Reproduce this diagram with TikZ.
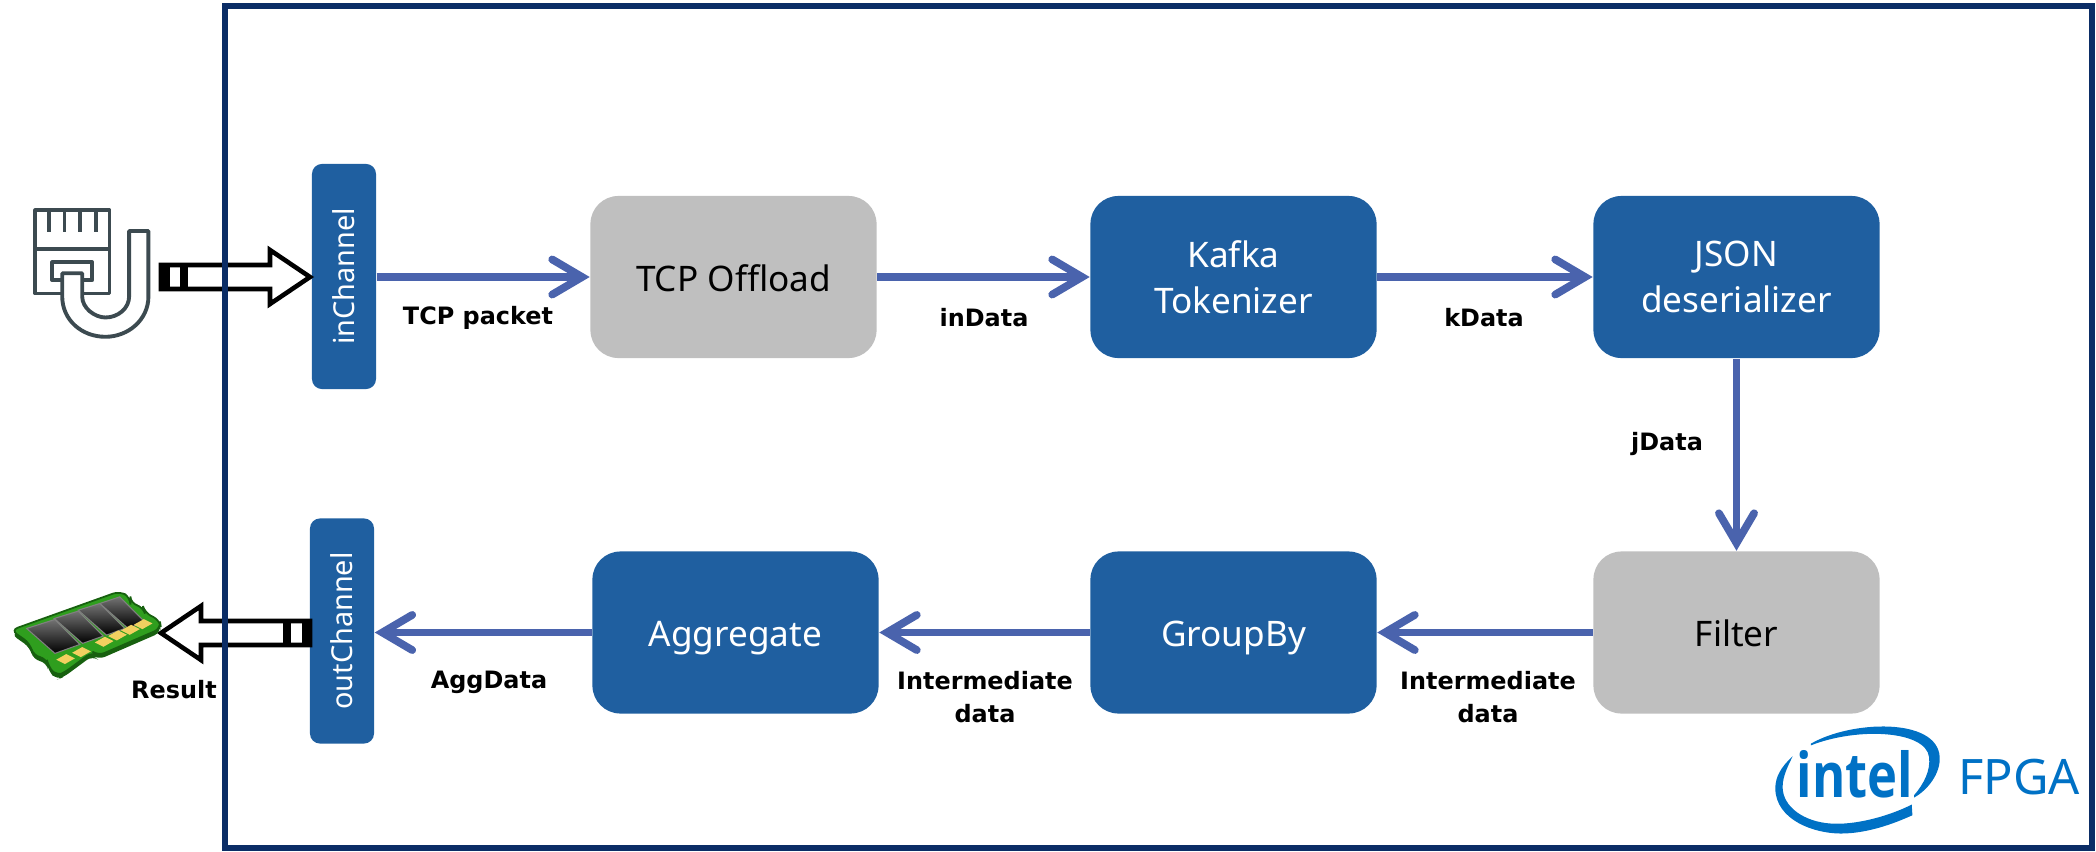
\documentclass[tikz,border=0pt]{standalone}
\usepackage{fontspec}
\setmainfont{Noto Sans}
\newfontfamily\labelfont{DejaVu Sans}
\newfontfamily\logofont{Open Sans}
\usetikzlibrary{arrows.meta}
\definecolor{blockblue}{HTML}{1F5FA0}
\definecolor{blockgray}{HTML}{BFBFBF}
\definecolor{framenavy}{HTML}{0B2D66}
\definecolor{flowblue}{HTML}{4A63AD}
\definecolor{intelblue}{HTML}{0071C5}
\definecolor{plugslate}{HTML}{3C4A50}
\definecolor{ramgreen}{HTML}{2F9E1E}
\definecolor{ramdark}{HTML}{17600F}
\definecolor{ramgold}{HTML}{F2D060}
\tikzset{
  block/.style={draw=none,rounded corners=2.8mm,minimum width=2.86cm,minimum height=1.62cm,
	align=center,inner sep=0pt,font=\fontsize{10}{13}\selectfont},
  bluebox/.style={block,fill=blockblue,text=white},
  graybox/.style={block,fill=blockgray,text=black},
  oneline/.style={text height=8pt,text depth=0pt},
  chanbox/.style={fill=blockblue,text=white,rounded corners=1mm,minimum width=2.25cm,minimum height=0.64cm,
	inner sep=0pt,rotate=90,font=\fontsize{8.2}{10}\selectfont},
  flow/.style={draw=flowblue,line width=2.2pt,-{Straight Barb[length=8.5pt,width=10pt,line cap=round,line join=miter]}},
  datalabel/.style={align=center,inner sep=0pt,font=\labelfont\bfseries\fontsize{6.8}{9.5}\selectfont},
  widearrow/.pic={
	\draw[line width=1.3pt,fill=white,miter limit=10] (-149,-12) -- (-40,-12) -- (-40,-27) -- (0,0) -- (-40,27) -- (-40,12) -- (-149,12) -- cycle;
	\fill (-149,-13.5) rectangle (-140.5,13.5);
	\fill (-130,-13.5) rectangle (-123,13.5);
	\draw[line width=0.7pt] (-149,-12) rectangle (-123,12);
  }
}
\begin{document}
\begin{tikzpicture}[x=0.01cm,y=-0.01cm]
%
\useasboundingbox (0,0) rectangle (2096,851);
%
\node[chanbox] (inCh) at (344,276.5) {inChannel};
\node[chanbox] (outCh) at (342,631) {outChannel};
\node[graybox,oneline] (tcp) at (733.5,277) {TCP Offload};
\node[bluebox] (kafka) at (1233.5,277) {Kafka\\Tokenizer};
\node[bluebox] (json) at (1736.5,277) {JSON\\deserializer};
\node[graybox,oneline] (filter) at (1736.5,632.5) {Filter};
\node[bluebox,oneline] (groupby) at (1233.5,632.5) {GroupBy};
\node[bluebox,oneline] (aggr) at (735.5,632.5) {Aggregate};
%
\draw[flow] (inCh.south |- tcp) -- (tcp);
\draw[flow] (tcp) -- (kafka);
\draw[flow] (kafka) -- (json);
\draw[flow] (json) -- (filter);
\draw[flow] (filter) -- (groupby);
\draw[flow] (groupby) -- (aggr);
\draw[flow] (aggr) -- (aggr -| outCh.south);
%
\node[datalabel] (tcpLab) at (478,318) {TCP packet};
\node[datalabel] (inLab) at (984,318) {inData};
\node[datalabel] (kLab) at (1484,318) {kData};
\node[datalabel] (jLab) at (1667,444) {jData};
\node[datalabel] (interA) at (1488,697) {Intermediate\\data};
\node[datalabel] (interB) at (985,697) {Intermediate\\data};
\node[datalabel] (aggLab) at (489,682) {AggData};
\node[datalabel] (resLab) at (174,690) {Result};
%
\pic at (310,277) {widearrow};
\pic[xscale=-1] at (161,633) {widearrow};
%
\draw[framenavy,line width=1.5pt] (225,6) rectangle (2092,848);
%
% plug
\begin{scope}[plugslate,line width=1.1pt,line join=round,x=0.00333cm,y=-0.00333cm,yshift=-1.5cm]
\draw (106,181) rectangle (329,431);
\draw (106,298) -- (329,298);
\foreach \px in {147,194,241,288}{
	\draw (\px,181) -- (\px,247);
}
\draw (157,337) rectangle (277,391);
\draw[fill=white] (187,391) -- (187,370) -- (247,370) -- (247,440) .. controls (247,475) and (285,503) .. (317,503) .. controls (355,503) and (388,475) .. (388,440) -- (388,243) -- (446,243) -- (446,440) .. controls (446,510) and (385,561) .. (317,561) .. controls (245,561) and (187,510) .. (187,440) -- cycle;
\end{scope}
%
% memory module
\begin{scope}[x=0.00333cm,y=-0.00333cm,yshift=-5.1cm]
\def\board{(33,360) -- (360,243) -- (392,262) -- (392,280) -- (430,290) -- (435,308) -- (480,330) -- (484,355) -- (295,437) -- (278,425) -- (190,490) -- (170,497) -- (145,470) -- (140,445) -- (100,437) -- (90,400) -- cycle}
\fill[ramdark,rounded corners=2pt,yshift=-0.04cm] \board;
\fill[ramgreen,draw=ramdark,line width=0.5pt,rounded corners=2pt] \board;
\foreach \ca/\cb/\cc/\cd in {80/355/165/328,163/325/235/303,235/300/300/280,300/280/360/260}{
	\shade[top color=black!55,bottom color=black,draw=black!50,line width=0.3pt] (\ca,\cb) -- (\cc,\cd) -- (\cc+75,\cd+75) -- (\ca+85,\cb+75) -- cycle;
}
\foreach \gx/\gy in {197/447,245/426,313/395,353/376,392/359,430/342}{
	\fill[ramgold] (\gx-28,\gy+2) -- (\gx+2,\gy-15) -- (\gx+28,\gy-2) -- (\gx-2,\gy+15) -- cycle;
}
\end{scope}
%
% logo
\begin{scope}[intelblue,x=0.00333cm,y=-0.00333cm,xshift=17.4cm,yshift=-7cm]
\fill (210,130) .. controls (330,60) and (590,50) .. (597,170) .. controls (600,220) and (560,270) .. (520,292) -- (520,285) .. controls (550,250) and (570,210) .. (565,170) .. controls (555,90) and (350,80) .. (210,135) -- cycle;
\fill (155,168) .. controls (120,200) and (103,230) .. (103,265) .. controls (105,360) and (220,400) .. (300,400) .. controls (380,400) and (460,370) .. (515,345) -- (513,313) .. controls (440,350) and (340,375) .. (270,370) .. controls (190,365) and (125,320) .. (125,260) .. controls (125,225) and (145,190) .. (155,168) -- cycle;
\end{scope}
\node[intelblue,inner sep=0pt,anchor=base,xscale=0.82,font=\logofont\bfseries\fontsize{17.6}{20}\selectfont] (intelText) at (1855,797) {intel};
\node[intelblue,inner sep=0pt,anchor=base,font=\fontsize{13.9}{16}\selectfont] (fpgaText) at (2019,794) {FPGA};
%
\end{tikzpicture}
\end{document}
